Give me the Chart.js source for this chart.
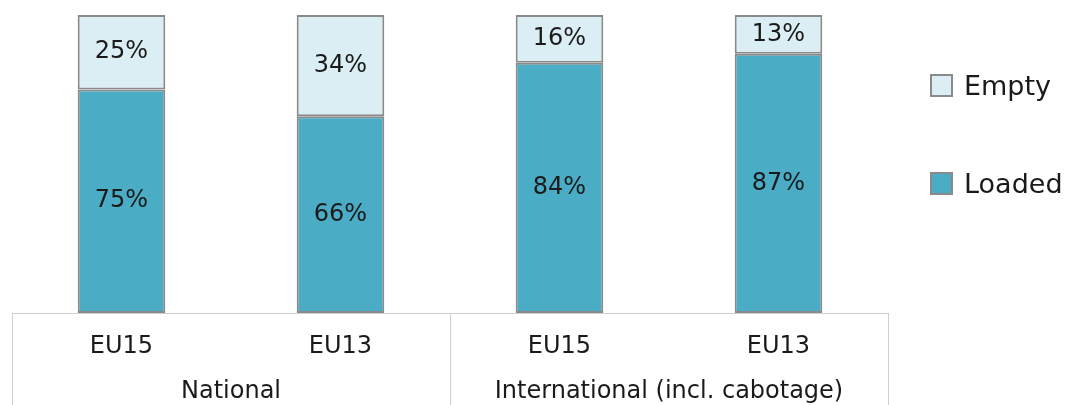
<!DOCTYPE html>
<html>
<head>
<meta charset="utf-8">
<script src="https://cdn.jsdelivr.net/npm/chart.js@4"></script>
<style>
  html, body { margin: 0; padding: 0; background: #fff; }
  #wrap { position: relative; width: 1069px; height: 405px; }
  #legend { position: absolute; left: 930px; top: 69px; font-family: 'DejaVu Sans', Verdana, sans-serif; font-size: 27px; color: #1a1a1a; }
  .item { display: flex; align-items: center; height: 32px; margin-bottom: 66px; }
  .sw { width: 23px; height: 23px; border: 2px solid #8a8a8a; margin-right: 11px; box-sizing: border-box; }
</style>
</head>
<body>
<div id="wrap">
  <canvas id="chart" width="1069" height="405"></canvas>
  <div id="legend"></div>
</div>
<script>
// categories
var barLabels = ['EU15', 'EU13', 'EU15', 'EU13'];
var groupLabels = ['National', 'International (incl. cabotage)'];
// series (percent)
var loaded = [75, 66, 84, 87];
var empty = [25, 34, 16, 13];

var FONT = "'DejaVu Sans', Verdana, sans-serif";
var COLORS = { loaded: '#4bacc6', empty: '#dbeef3', border: '#8a8a8a', grid: '#cfcfcf', text: '#1a1a1a' };

// segment value labels in middle of each bar piece
var valueLabels = {
  id: 'valueLabels',
  afterDatasetsDraw: function (chart) {
    var ctx = chart.ctx;
    ctx.save();
    ctx.font = '24px ' + FONT;
    ctx.fillStyle = COLORS.text;
    ctx.textAlign = 'center';
    ctx.textBaseline = 'middle';
    chart.data.datasets.forEach(function (ds, i) {
      chart.getDatasetMeta(i).data.forEach(function (bar, j) {
        var p = bar.getProps(['x', 'y', 'base'], true);
        ctx.fillText(ds.data[j] + '%', p.x, (p.y + p.base) / 2);
      });
    });
    ctx.restore();
  }
};

// box lines of the two-level category axis
var axisBox = {
  id: 'axisBox',
  afterDraw: function (chart) {
    var ctx = chart.ctx, a = chart.chartArea;
    var g = chart.scales.x2;
    var step = (g.right - g.left) / groupLabels.length;
    ctx.save();
    ctx.strokeStyle = COLORS.grid;
    ctx.lineWidth = 1;
    ctx.beginPath();
    ctx.moveTo(a.left, a.bottom + 0.5);
    ctx.lineTo(a.right, a.bottom + 0.5);
    for (var i = 0; i <= groupLabels.length; i++) {
      var x = Math.round(g.left + step * i) + 0.5;
      ctx.moveTo(x, a.bottom);
      ctx.lineTo(x, chart.height);
    }
    ctx.stroke();
    ctx.restore();
  }
};

var chart = new Chart(document.getElementById('chart'), {
  type: 'bar',
  data: {
    labels: barLabels,
    datasets: [
      { label: 'Loaded', data: loaded, backgroundColor: COLORS.loaded, borderColor: COLORS.border, borderWidth: 2, borderSkipped: false },
      { label: 'Empty', data: empty, backgroundColor: COLORS.empty, borderColor: COLORS.border, borderWidth: 2, borderSkipped: false }
    ]
  },
  options: {
    responsive: false,
    animation: false,
    layout: { padding: { top: 15, left: 12, right: 181, bottom: 0 } },
    datasets: { bar: { barPercentage: 0.4, categoryPercentage: 1 } },
    plugins: { legend: { display: false }, tooltip: { enabled: false } },
    scales: {
      x: {
        stacked: true,
        grid: { display: false, drawTicks: false },
        border: { display: false },
        ticks: { font: { family: FONT, size: 24 }, color: COLORS.text, padding: 19, maxRotation: 0 },
        afterFit: function (s) { s.height = 45; }
      },
      x2: {
        type: 'category',
        labels: groupLabels,
        position: 'bottom',
        grid: { display: false, drawTicks: false },
        border: { display: false },
        ticks: { font: { family: FONT, size: 24 }, color: COLORS.text, padding: 19, maxRotation: 0 },
        afterFit: function (s) { s.height = 47; }
      },
      y: { stacked: true, display: false, min: 0, max: 100 }
    }
  },
  plugins: [valueLabels, axisBox]
});

// legend (Empty on top, as in the stack)
var legend = document.getElementById('legend');
chart.data.datasets.slice().reverse().forEach(function (ds) {
  var item = document.createElement('div');
  item.className = 'item';
  item.innerHTML = '<div class="sw" style="background:' + ds.backgroundColor + '"></div><span>' + ds.label + '</span>';
  legend.appendChild(item);
});
</script>
</body>
</html>
